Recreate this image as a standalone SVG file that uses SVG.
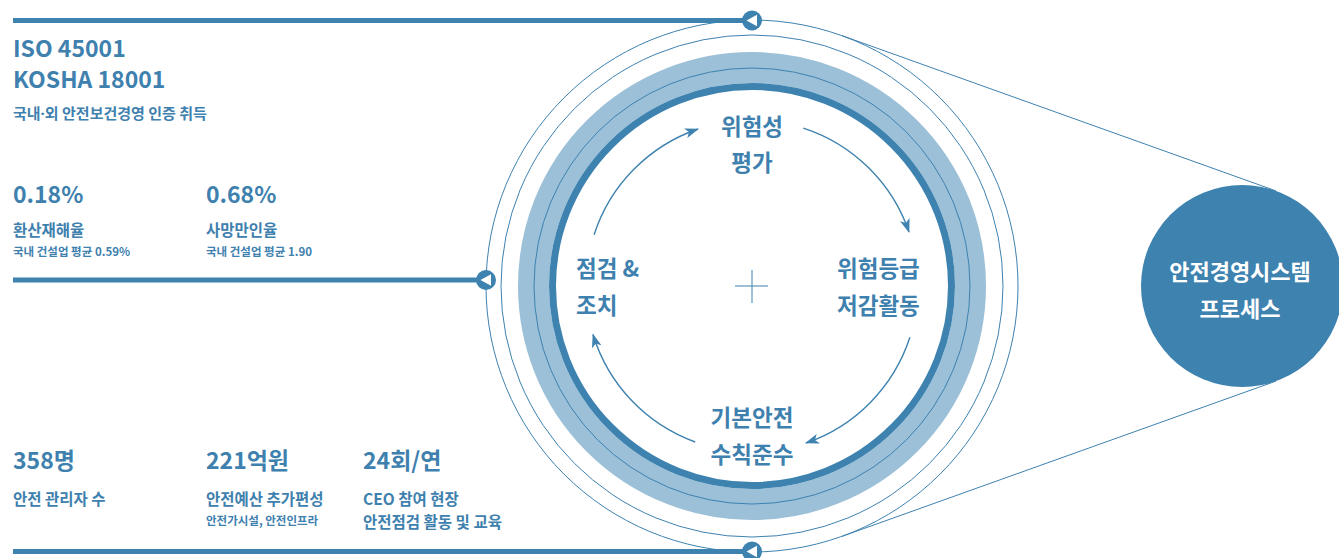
<svg xmlns="http://www.w3.org/2000/svg" width="1339" height="558" viewBox="0 0 1339 558">
<style>
text{font-family:"Noto Sans CJK KR","Noto Sans",sans-serif;fill:#3e80ae}
.big{font-size:23px;font-weight:700}
.lab{font-size:15.5px;font-weight:700}
.sm{font-size:11.5px;font-weight:700}
.ctr{font-size:22.5px;font-weight:700;text-anchor:middle}
.thin{fill:none;stroke:#3e82b0;stroke-width:1}
.bar{stroke:#3e82b0;stroke-width:5}
.arc{fill:none;stroke:#3e82b0;stroke-width:1.4;marker-end:url(#ah)}
</style>
<defs>
<marker id="ah" viewBox="0 0 14 10" refX="13" refY="5" markerWidth="14" markerHeight="10" markerUnits="userSpaceOnUse" orient="auto">
<path d="M0,0 L14,5 L0,10 L3.5,5 Z" fill="#3e82b0"/>
</marker>
<g id="pin"><circle r="10" fill="#3e82b0"/><path d="M-5.5,0 L5,-5.8 L5,5.8 Z" fill="#fff"/></g>
</defs>

<g id="rings">
<circle cx="752" cy="286" r="218.5" fill="none" stroke="#9bc0d8" stroke-width="31"/>
<circle cx="752" cy="286" r="218" class="thin"/>
<circle cx="752" cy="286" r="199.5" fill="none" stroke="#3e82b0" stroke-width="7"/>
<circle cx="752" cy="286" r="251" class="thin"/>
<circle cx="752" cy="286" r="266" class="thin"/>
<path d="M735,286 H768 M752,270 V303" class="thin"/>
</g>

<g id="connectors">
<line x1="13" y1="20.5" x2="752" y2="20.5" class="bar"/>
<line x1="13" y1="280" x2="486" y2="280" class="bar"/>
<line x1="13" y1="551.5" x2="752" y2="551.5" class="bar"/>
<line x1="841.6" y1="35.5" x2="1276" y2="190.9" class="thin"/>
<line x1="841.6" y1="536.5" x2="1276" y2="381.1" class="thin"/>
<path class="arc" d="M594.1,234.7 A166,166 0 0 1 698,129"/>
<path class="arc" d="M803.3,128.1 A166,166 0 0 1 909,232"/>
<path class="arc" d="M909.9,337.3 A166,166 0 0 1 806,443"/>
<path class="arc" d="M695.2,442 A166,166 0 0 1 593,334.5"/>
</g>

<use href="#pin" x="752" y="20.5"/>
<use href="#pin" x="486" y="280"/>
<use href="#pin" x="752" y="551.5"/>

<g id="stat-iso">
<text x="13" y="57" class="big">ISO 45001</text>
<text x="13" y="88" class="big">KOSHA 18001</text>
<text x="13" y="119" class="lab" style="font-size:15px">국내<tspan style="font-family:'Noto Sans',sans-serif">·</tspan>외 안전보건경영 인증 취득</text>
</g>
<g id="stat-rate1">
<text x="13" y="203" class="big">0.18%</text>
<text x="13" y="236" class="lab">환산재해율</text>
<text x="13" y="256" class="sm">국내 건설업 평균 0.59%</text>
</g>
<g id="stat-rate2">
<text x="206" y="203" class="big">0.68%</text>
<text x="206" y="236" class="lab">사망만인율</text>
<text x="206" y="256" class="sm">국내 건설업 평균 1.90</text>
</g>
<g id="stat-managers">
<text x="13" y="469" class="big">358명</text>
<text x="13" y="505" class="lab">안전 관리자 수</text>
</g>
<g id="stat-budget">
<text x="206" y="469" class="big">221억원</text>
<text x="206" y="505" class="lab">안전예산 추가편성</text>
<text x="206" y="525" class="sm">안전가시설, 안전인프라</text>
</g>
<g id="stat-ceo">
<text x="363" y="469" class="big">24회/연</text>
<text x="363" y="505" class="lab">CEO 참여 현장</text>
<text x="363" y="528" class="lab">안전점검 활동 및 교육</text>
</g>

<g id="step-assess">
<text x="752" y="135" class="ctr">위험성</text>
<text x="752" y="171" class="ctr">평가</text>
</g>
<g id="step-reduce">
<text x="837" y="277" class="ctr" style="text-anchor:start">위험등급</text>
<text x="837" y="314" class="ctr" style="text-anchor:start">저감활동</text>
</g>
<g id="step-basic">
<text x="752" y="426" class="ctr">기본안전</text>
<text x="752" y="463" class="ctr">수칙준수</text>
</g>
<g id="step-inspect">
<text x="576" y="277" class="ctr" style="text-anchor:start">점검 &amp;</text>
<text x="576" y="314" class="ctr" style="text-anchor:start">조치</text>
</g>

<g id="system">
<circle cx="1242" cy="286" r="101" fill="#3e82b0"/>
<text x="1240" y="280" class="ctr" style="fill:#fff;font-size:22px">안전경영시스템</text>
<text x="1240" y="317" class="ctr" style="fill:#fff;font-size:22px">프로세스</text>
</g>
</svg>
